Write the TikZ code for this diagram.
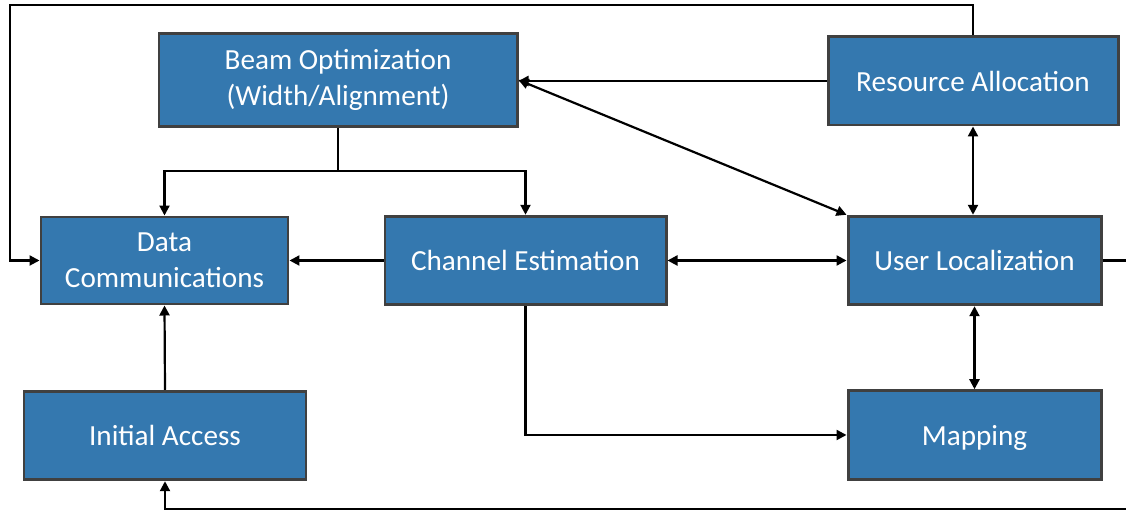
\documentclass[tikz,border=0pt]{standalone}
\usepackage{fontspec}
\setmainfont{Carlito}
\usetikzlibrary{arrows.meta, positioning}
\definecolor{boxblue}{RGB}{52,120,175}
\definecolor{boxedge}{RGB}{64,64,64}

\begin{document}
\begin{tikzpicture}[
    block/.style={draw=boxedge, line width=1.7pt, fill=boxblue, text=white, align=center, font=\fontsize{16.6}{20.5}\selectfont, minimum height=1.77cm},
    arrow/.style={-{Triangle[length=2mm, width=2mm]}, line width=1.25pt},
    twoway/.style={{Triangle[length=2mm, width=2mm]}-{Triangle[length=2mm, width=2mm]}, line width=1.25pt}
]
\useasboundingbox (0,0) rectangle (22.52,10.22);

% Blocks
\node[block, minimum width=7.16cm, minimum height=1.86cm] (beam) at (6.76,8.62) {Beam Optimization\\(Width/Alignment)};
\node[block, minimum width=5.8cm, minimum height=1.76cm] (resource) at (19.46,8.60) {Resource Allocation};
\node[block, minimum width=4.94cm, minimum height=1.74cm] (data) at (3.29,5.01) {Data\\Communications};
\node[block, minimum width=5.62cm] (channel) at (10.51,5.01) {Channel Estimation};
\node[block, minimum width=5.06cm] (user) at (19.49,5.01) {User Localization};
\node[block, minimum width=5.64cm] (access) at (3.30,1.51) {Initial Access};
\node[block, minimum width=5.06cm, text depth=0pt, below=1.66cm of user] (mapping) {Mapping};

% Corner points of the outer loops
\coordinate (topright) at (resource.north |- 0,10.12);
\coordinate (topleft) at (0.2,10.12);
\coordinate (split) at (beam.south |- 0,6.8);
\coordinate (farright) at (22.7,5.01);
\coordinate (bottomright) at (22.7,0.04);

% Direct links
\draw[arrow] (resource.west) -- (resource.west -| beam.east);
\draw[twoway] (beam.east) -- (user.north west);
\draw[arrow] (channel.west) -- (data.east);
\draw[twoway] (channel.east) -- (user.west);
\draw[twoway] (resource.south) -- (user.north -| resource.south);
\draw[twoway] (user.south) -- (mapping.north);
\draw[arrow] (access.north) -- (data.south);

% Beam optimization feeds both
\draw[line width=1.25pt] (beam.south) -- (split);
\draw[arrow] (split) -| (data.north);
\draw[arrow] (split) -| (channel.north);

% Channel estimation to mapping
\draw[arrow] (channel.south) |- (mapping.west);

% Loops round the outside
\draw[arrow] (resource.north) -- (topright) -- (topleft) |- (data.west);
\draw[arrow] (user.east) -- (farright) -- (bottomright) -| (access.south);

\end{tikzpicture}
\end{document}
